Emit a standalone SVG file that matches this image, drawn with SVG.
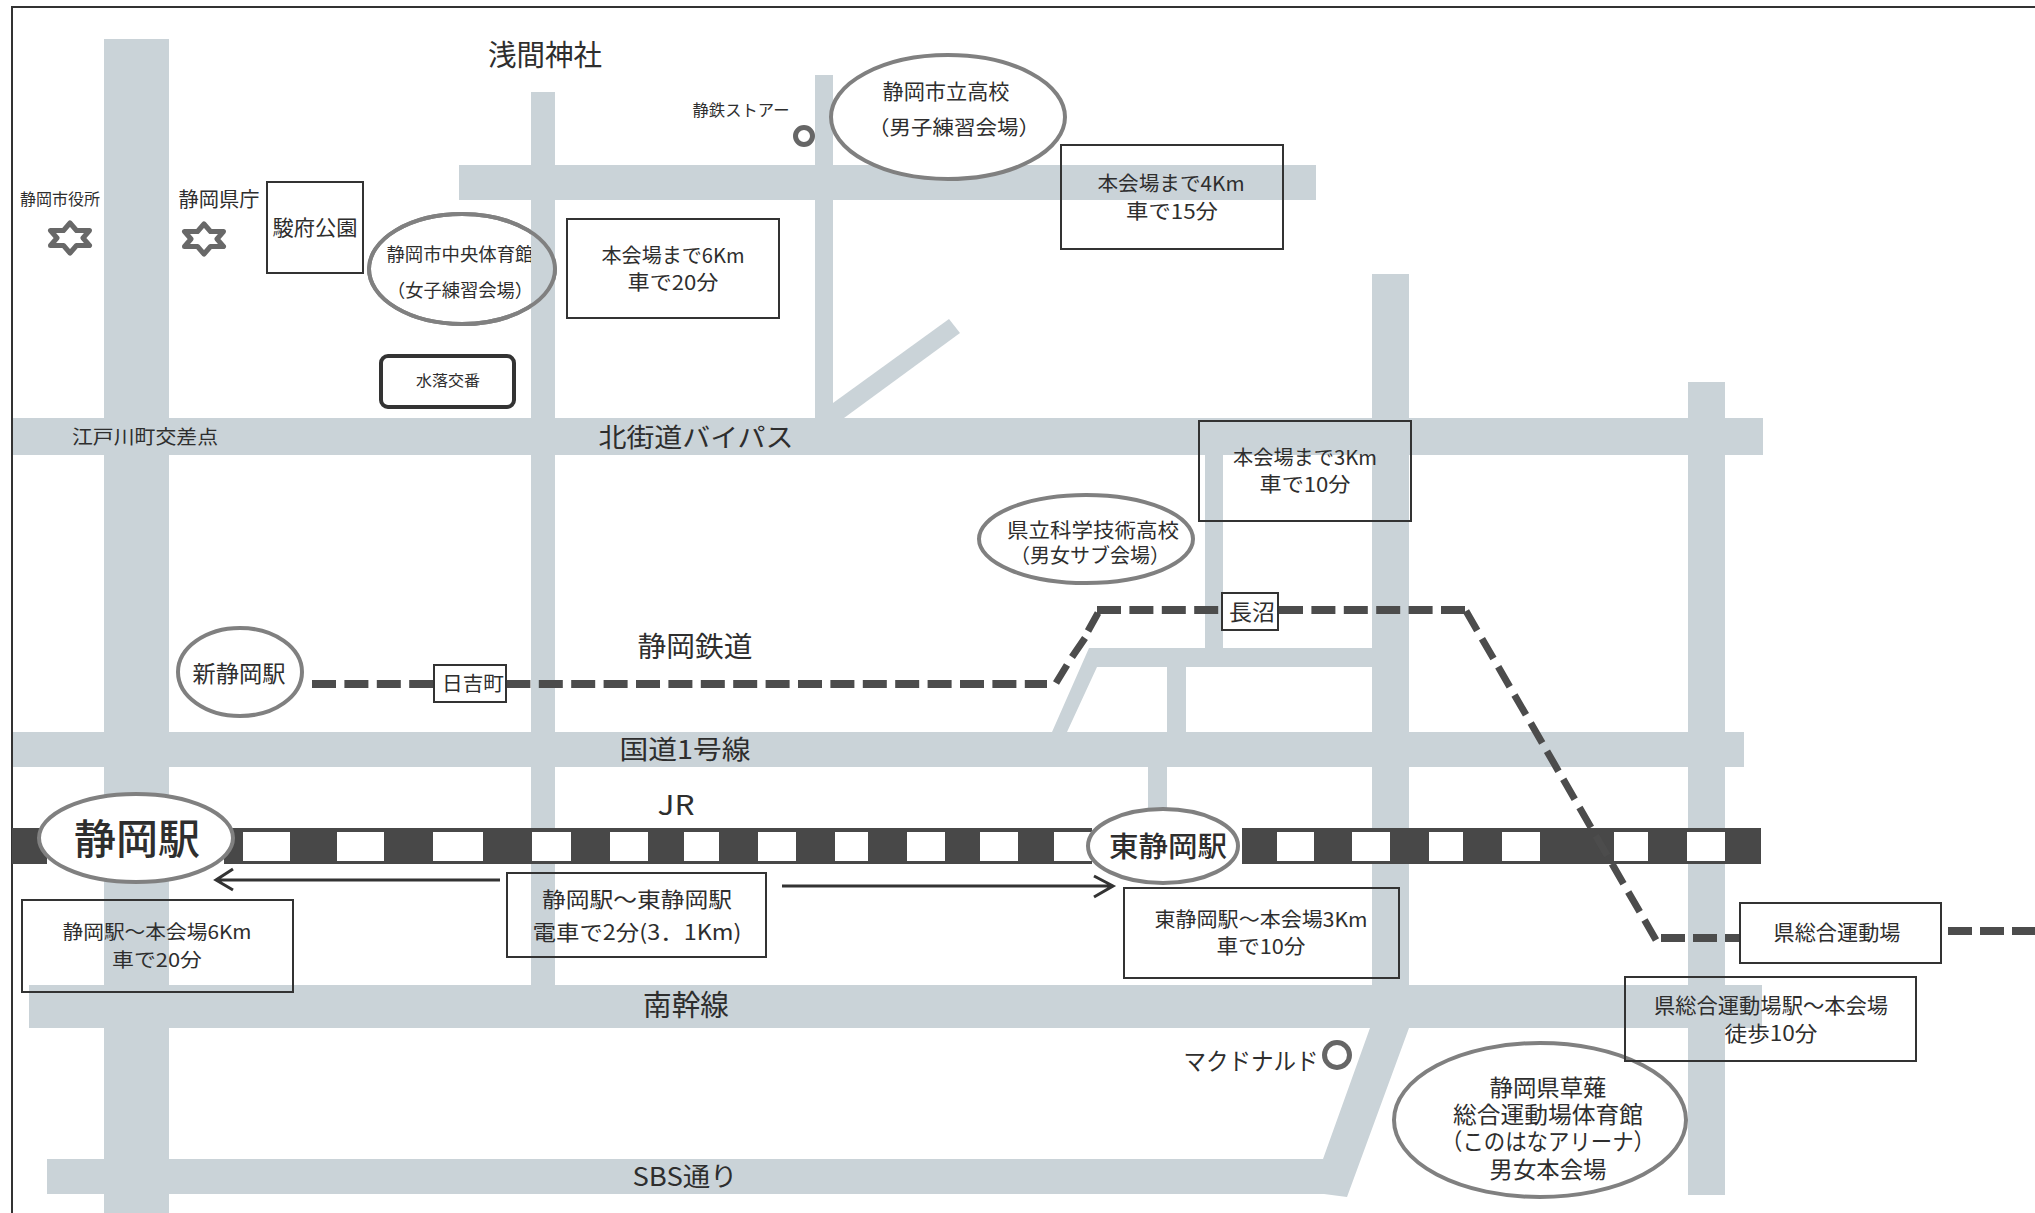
<svg xmlns="http://www.w3.org/2000/svg" width="2035" height="1213" viewBox="0 0 2035 1213">
<style>
text{font-family:"Noto Sans CJK JP","Noto Sans",sans-serif;fill:#2e2e2e;text-anchor:middle}
.road{fill:#cad3d8}
.box{fill:none;stroke:#333;stroke-width:2}
.wbox{fill:#fff;stroke:#333;stroke-width:2}
.oval{fill:#fff;stroke:#808080;stroke-width:4}
.rail{fill:none;stroke:#4c4c4c;stroke-width:8;stroke-dasharray:24 8.4}
.railsolid{fill:none;stroke:#4c4c4c;stroke-width:7}
.arrow{fill:none;stroke:#333;stroke-width:3}
.gap{fill:#fff}
.band{fill:#484848}
.ring{fill:#fff;stroke:#666;stroke-width:5}
</style>
<defs>
<polygon id="star" points="0,-15 6.5,-7.5 19.5,-7.5 13,0 19.5,7.5 6.5,7.5 0,15 -6.5,7.5 -19.5,7.5 -13,0 -19.5,-7.5 -6.5,-7.5" fill="#fff" stroke="#686868" stroke-width="5" stroke-linejoin="round"/>
</defs>
<rect width="2035" height="1213" fill="#fff"/>
<g id="roads">
<rect class="road" x="104" y="39" width="65" height="1174"/>
<rect class="road" x="531" y="92" width="24" height="893"/>
<rect class="road" x="815" y="75" width="18" height="343"/>
<rect class="road" x="459" y="165" width="857" height="35"/>
<polygon class="road" points="833,403 949,319 960,333 844,418 833,418"/>
<rect class="road" x="12" y="418" width="1751" height="37"/>
<polygon class="road" points="1372,274 1409,274 1409,1028 1347,1197 1324,1194 47,1194 47,1159 1323,1159 1370,1028 1372,1028"/>
<rect class="road" x="1688" y="382" width="37" height="813"/>
<rect class="road" x="1205" y="455" width="18" height="193"/>
<polygon class="road" points="1089,648 1372,648 1372,667 1097,667 1067,732 1052,732"/>
<rect class="road" x="1167" y="666" width="19" height="66"/>
<rect class="road" x="13" y="732" width="1731" height="35"/>
<rect class="road" x="1148" y="767" width="19" height="60"/>
<rect class="road" x="29" y="985" width="1733" height="43"/>
</g>
<g id="frame"><path d="M12,1213V7H2035" fill="none" stroke="#333" stroke-width="2"/></g>
<g id="connectors">
<g id="jr-line">
<rect class="band" x="12" y="828" width="35" height="36"/>
<rect class="band" x="224" y="828" width="868" height="36"/>
<rect class="band" x="1242" y="828" width="519" height="36"/>
<rect class="gap" x="243" y="832" width="47" height="29"/>
<rect class="gap" x="337" y="832" width="47" height="29"/>
<rect class="gap" x="433" y="832" width="50" height="29"/>
<rect class="gap" x="532" y="832" width="39" height="29"/>
<rect class="gap" x="610" y="832" width="38" height="29"/>
<rect class="gap" x="684" y="832" width="35" height="29"/>
<rect class="gap" x="758" y="832" width="38" height="29"/>
<rect class="gap" x="835" y="832" width="33" height="29"/>
<rect class="gap" x="907" y="832" width="38" height="29"/>
<rect class="gap" x="980" y="832" width="38" height="29"/>
<rect class="gap" x="1054" y="832" width="38" height="29"/>
<rect class="gap" x="1277" y="832" width="37" height="29"/>
<rect class="gap" x="1352" y="832" width="38" height="29"/>
<rect class="gap" x="1429" y="832" width="34" height="29"/>
<rect class="gap" x="1502" y="832" width="38" height="29"/>
<rect class="gap" x="1614" y="832" width="34" height="29"/>
<rect class="gap" x="1687" y="832" width="38" height="29"/>
</g>
<g id="shizutetsu">
<path class="rail" d="M312,684H1047"/>
<path class="railsolid" d="M1056,683L1067,665M1072,657L1085,638M1088,631L1098,613"/>
<path class="rail" d="M1097,610H1222"/>
<path class="rail" d="M1279,610H1466"/>
<path class="railsolid" style="stroke-dasharray:23 9.5" d="M1656,940L1466,611"/>
<path class="rail" style="stroke-dasharray:24 8" d="M1661,938H1740"/>
<path class="rail" style="stroke-dasharray:24 8" d="M1948,931H2035"/>
</g>
<g id="arrow-west"><path class="arrow" d="M500,880H216M233,869L216,880L233,890"/></g>
<g id="arrow-east"><path class="arrow" d="M782,886H1112M1094,876L1113,886L1094,897"/></g>
</g>
<g id="n-sengen"><text x="545" y="66" font-size="29" textLength="114" lengthAdjust="spacingAndGlyphs">浅間神社</text></g>
<g id="n-cityhall"><text x="60" y="205" font-size="16" textLength="80" lengthAdjust="spacingAndGlyphs">静岡市役所</text><use href="#star" x="70" y="238"/></g>
<g id="n-prefoffice"><text x="219" y="207" font-size="20" textLength="81" lengthAdjust="spacingAndGlyphs">静岡県庁</text><use href="#star" x="204" y="239"/></g>
<g id="n-sunpu"><rect class="box" x="267" y="182" width="96" height="91"/><text x="315" y="235" font-size="21" textLength="85" lengthAdjust="spacingAndGlyphs">駿府公園</text></g>
<g id="n-store"><text x="741" y="116" font-size="16" textLength="97" lengthAdjust="spacingAndGlyphs">静鉄ストアー</text><circle class="ring" cx="804" cy="136" r="8.5" stroke-width="4"/></g>
<g id="n-shiritsu"><ellipse class="oval" cx="948" cy="117" rx="117" ry="62"/><text x="946" y="99" font-size="21" textLength="127" lengthAdjust="spacingAndGlyphs">静岡市立高校</text><text x="954" y="135" font-size="20" textLength="172" lengthAdjust="spacingAndGlyphs">（男子練習会場）</text></g>
<g id="n-chuo"><ellipse class="oval" cx="462" cy="269" rx="93" ry="55"/><text x="460" y="261" font-size="18" textLength="147" lengthAdjust="spacingAndGlyphs">静岡市中央体育館</text><text x="460" y="297" font-size="18" textLength="146" lengthAdjust="spacingAndGlyphs">（女子練習会場）</text><rect class="road" x="531" y="200" width="24" height="135"/><ellipse class="oval" style="fill:none" cx="462" cy="269" rx="93" ry="55"/></g>
<g id="n-koban"><rect x="381" y="356" width="133" height="51" rx="7" fill="#fff" stroke="#333" stroke-width="4"/><text x="448" y="386" font-size="15" textLength="64" lengthAdjust="spacingAndGlyphs">水落交番</text></g>
<g id="n-dist6"><rect class="box" x="567" y="219" width="212" height="99"/><text x="673" y="263" font-size="20" textLength="143" lengthAdjust="spacingAndGlyphs">本会場まで6Km</text><text x="673" y="290" font-size="20" textLength="91" lengthAdjust="spacingAndGlyphs">車で20分</text></g>
<g id="n-dist4"><rect class="box" x="1061" y="145" width="222" height="104"/><text x="1171" y="191" font-size="20" textLength="147" lengthAdjust="spacingAndGlyphs">本会場まで4Km</text><text x="1172" y="219" font-size="20" textLength="92" lengthAdjust="spacingAndGlyphs">車で15分</text></g>
<g id="n-dist3"><rect class="box" x="1199" y="421" width="212" height="100"/><text x="1305" y="465" font-size="20" textLength="144" lengthAdjust="spacingAndGlyphs">本会場まで3Km</text><text x="1305" y="492" font-size="20" textLength="91" lengthAdjust="spacingAndGlyphs">車で10分</text></g>
<g id="n-edogawa"><text x="145" y="444" font-size="19" textLength="146" lengthAdjust="spacingAndGlyphs">江戸川町交差点</text></g>
<g id="n-kitakaido"><text x="696" y="447" font-size="26" textLength="195" lengthAdjust="spacingAndGlyphs">北街道バイパス</text></g>
<g id="n-kagaku"><ellipse class="oval" cx="1086" cy="539" rx="107" ry="44"/><text x="1093" y="538" font-size="20" textLength="172" lengthAdjust="spacingAndGlyphs">県立科学技術高校</text><text x="1090" y="563" font-size="20" textLength="160" lengthAdjust="spacingAndGlyphs">（男女サブ会場）</text></g>
<g id="n-naganuma"><rect class="wbox" x="1222" y="593" width="56" height="37"/><text x="1252" y="620" font-size="22" textLength="46" lengthAdjust="spacingAndGlyphs">長沼</text></g>
<g id="n-shinshizuoka"><ellipse class="oval" cx="240" cy="672" rx="62" ry="44"/><text x="239" y="682" font-size="23" textLength="93" lengthAdjust="spacingAndGlyphs">新静岡駅</text></g>
<g id="n-hiyoshi"><rect class="wbox" x="434" y="665" width="72" height="37"/><text x="473" y="691" font-size="20" textLength="62" lengthAdjust="spacingAndGlyphs">日吉町</text></g>
<g id="n-tetsudo"><text x="695" y="657" font-size="28" textLength="115" lengthAdjust="spacingAndGlyphs">静岡鉄道</text></g>
<g id="n-r1"><text x="685" y="759" font-size="26" textLength="131" lengthAdjust="spacingAndGlyphs">国道1号線</text></g>
<g id="n-jr"><text x="676" y="815" font-size="27" textLength="37" lengthAdjust="spacingAndGlyphs">JR</text></g>
<g id="n-shizuoka"><ellipse class="oval" cx="136" cy="838" rx="97" ry="44"/><text x="137" y="854" font-size="41" font-weight="500" textLength="126" lengthAdjust="spacingAndGlyphs">静岡駅</text></g>
<g id="n-higashi"><ellipse class="oval" cx="1163" cy="846" rx="75" ry="37"/><text x="1168" y="857" font-size="28" font-weight="500" textLength="118" lengthAdjust="spacingAndGlyphs">東静岡駅</text></g>
<g id="n-b1"><rect class="box" x="22" y="900" width="271" height="92"/><text x="157" y="939" font-size="19" textLength="189" lengthAdjust="spacingAndGlyphs">静岡駅～本会場6Km</text><text x="157" y="967" font-size="19" textLength="90" lengthAdjust="spacingAndGlyphs">車で20分</text></g>
<g id="n-b2"><rect class="box" x="507" y="873" width="259" height="84"/><text x="637" y="907" font-size="21" textLength="190" lengthAdjust="spacingAndGlyphs">静岡駅～東静岡駅</text><text x="637" y="940" font-size="21" textLength="209" lengthAdjust="spacingAndGlyphs">電車で2分(3．1Km)</text></g>
<g id="n-b3"><rect class="box" x="1124" y="888" width="275" height="90"/><text x="1261" y="927" font-size="20" textLength="213" lengthAdjust="spacingAndGlyphs">東静岡駅～本会場3Km</text><text x="1261" y="954" font-size="20" textLength="89" lengthAdjust="spacingAndGlyphs">車で10分</text></g>
<g id="n-nankan"><text x="686" y="1016" font-size="29" textLength="86" lengthAdjust="spacingAndGlyphs">南幹線</text></g>
<g id="n-sbs"><text x="685" y="1186" font-size="26" textLength="105" lengthAdjust="spacingAndGlyphs">SBS通り</text></g>
<g id="n-mac"><text x="1251" y="1070" font-size="24" textLength="135" lengthAdjust="spacingAndGlyphs">マクドナルド</text><circle class="ring" cx="1337" cy="1055" r="12.5"/></g>
<g id="n-station"><rect class="wbox" x="1740" y="903" width="201" height="60"/><text x="1837" y="940" font-size="21" textLength="127" lengthAdjust="spacingAndGlyphs">県総合運動場</text></g>
<g id="n-arena"><ellipse class="oval" cx="1540" cy="1120" rx="146" ry="77"/><text x="1548" y="1096" font-size="23" textLength="117" lengthAdjust="spacingAndGlyphs">静岡県草薙</text><text x="1548" y="1123" font-size="23" textLength="190" lengthAdjust="spacingAndGlyphs">総合運動場体育館</text><text x="1548" y="1150" font-size="23" textLength="214" lengthAdjust="spacingAndGlyphs">（このはなアリーナ）</text><text x="1548" y="1178" font-size="23" textLength="117" lengthAdjust="spacingAndGlyphs">男女本会場</text></g>
<g id="n-walk"><rect class="box" x="1625" y="977" width="291" height="84"/><text x="1771" y="1013" font-size="21" textLength="234" lengthAdjust="spacingAndGlyphs">県総合運動場駅～本会場</text><text x="1771" y="1041" font-size="21" textLength="93" lengthAdjust="spacingAndGlyphs">徒歩10分</text></g>
</svg>
